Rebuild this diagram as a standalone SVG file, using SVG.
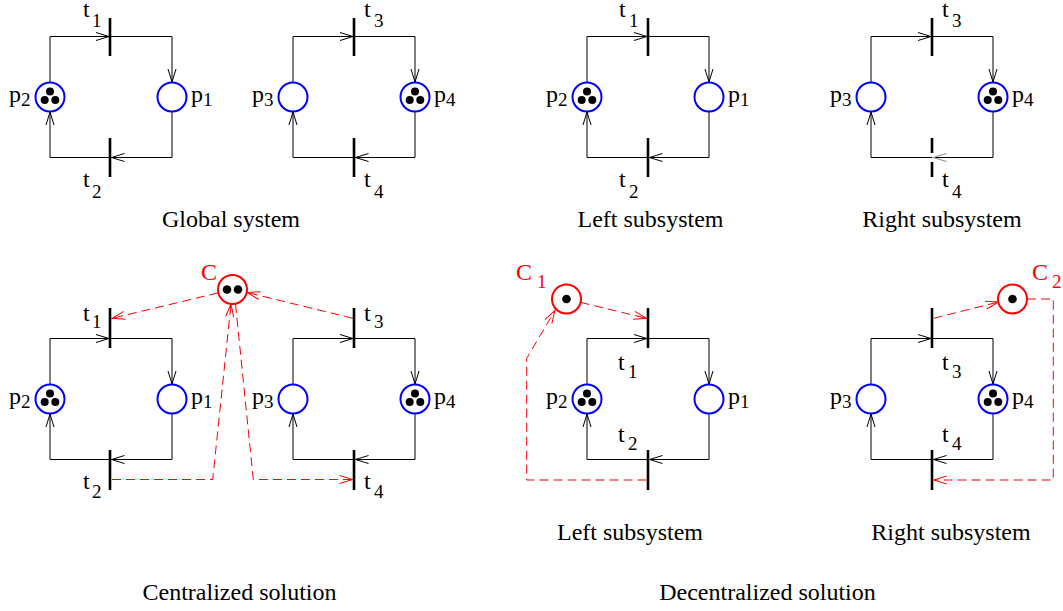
<svg xmlns="http://www.w3.org/2000/svg" width="1063" height="611" viewBox="0 0 1063 611">
<style>
text{font-family:"Liberation Serif","Times New Roman",serif;fill:#000}
.l{font-size:24px}
.s{font-size:19px}
.ttl{font-size:24px;text-anchor:middle}
.red{fill:#ff0000}
.arc{fill:none;stroke:#000;stroke-width:1;marker-end:url(#ah)}
.rarc{fill:none;stroke:#ff0000;stroke-width:1;stroke-dasharray:9,5;marker-end:url(#ahr)}
.pl{fill:#fff;stroke:#0000ff;stroke-width:2}
.cp{fill:#fff;stroke:#ff0000;stroke-width:2}
.bar{stroke:#000;stroke-width:2.6}
.tok{fill:#000}
</style>
<defs>
<marker id="ah" viewBox="-1 -6 16 12" refX="13" refY="0" markerWidth="16" markerHeight="12" markerUnits="userSpaceOnUse" orient="auto"><path d="M0,-4 L13,0 L0,4" fill="none" stroke="#000" stroke-width="1"/></marker>
<marker id="ahg" viewBox="-1 -6 16 12" refX="13" refY="0" markerWidth="16" markerHeight="12" markerUnits="userSpaceOnUse" orient="auto"><path d="M0,-4 L13,0 L0,4" fill="none" stroke="#888" stroke-width="1"/></marker>
<marker id="ahr" viewBox="-1 -6 16 12" refX="13" refY="0" markerWidth="16" markerHeight="12" markerUnits="userSpaceOnUse" orient="auto"><path d="M0,-4 L13,0 L0,4" fill="none" stroke="#ff0000" stroke-width="1"/></marker>
<g id="tok3"><circle class="tok" cx="0" cy="-5.5" r="4"/><circle class="tok" cx="-5.3" cy="3" r="4"/><circle class="tok" cx="5.3" cy="3" r="4"/></g>
</defs>

<g id="connectors">
<!-- Global left loop -->
<path class="arc" d="M50,82.5 V36.5 H109"/>
<path class="arc" d="M110,36.5 H172 V82"/>
<path class="arc" d="M172,111.5 V157.5 H111.5"/>
<path class="arc" d="M110,157.5 H50 V112"/>
<!-- Global right loop -->
<path class="arc" d="M293,82.5 V36.5 H353"/>
<path class="arc" d="M354,36.5 H415 V82"/>
<path class="arc" d="M415,111.5 V157.5 H355.5"/>
<path class="arc" d="M354,157.5 H293 V112"/>
<!-- Left subsystem top -->
<path class="arc" d="M587,82.5 V36.5 H647"/>
<path class="arc" d="M648,36.5 H709 V82"/>
<path class="arc" d="M709,111.5 V157.5 H649.5"/>
<path class="arc" d="M648,157.5 H587 V112"/>
<!-- Right subsystem top -->
<path class="arc" d="M871,82.5 V36.5 H931"/>
<path class="arc" d="M932,36.5 H993 V82"/>
<path d="M993,111.5 V157.5 H933.5" fill="none" stroke="#000" stroke-width="1" marker-end="url(#ahg)"/>
<path class="arc" d="M932,157.5 H871 V112"/>
<!-- Centralized left loop -->
<path class="arc" d="M50,384.5 V338.5 H109"/>
<path class="arc" d="M110,338.5 H172 V384"/>
<path class="arc" d="M172,413.5 V459.5 H111.5"/>
<path class="arc" d="M110,459.5 H50 V414"/>
<!-- Centralized right loop -->
<path class="arc" d="M293,384.5 V338.5 H353"/>
<path class="arc" d="M354,338.5 H415 V384"/>
<path class="arc" d="M415,413.5 V459.5 H355.5"/>
<path class="arc" d="M354,459.5 H293 V414"/>
<!-- Decentralized left loop -->
<path class="arc" d="M587,384.5 V338.5 H647"/>
<path class="arc" d="M648,338.5 H709 V384"/>
<path class="arc" d="M709,413.5 V459.5 H649.5"/>
<path class="arc" d="M648,459.5 H587 V414"/>
<!-- Decentralized right loop -->
<path class="arc" d="M871,384.5 V338.5 H931"/>
<path class="arc" d="M932,338.5 H993 V384"/>
<path class="arc" d="M993,413.5 V459.5 H933.5"/>
<path class="arc" d="M932,459.5 H871 V414"/>
<!-- Centralized controller arcs -->
<path class="rarc" d="M218.3,292.9 L112,318.3"/>
<path class="rarc" d="M353,318.3 L247,292.5"/>
<path class="rarc" d="M112,479.5 H212.7 L231,304"/>
<path class="rarc" d="M235.5,304 L253.3,479.5 H352.5"/>
<!-- Decentralized controller arcs -->
<path class="rarc" d="M580.6,302.4 L646.5,318.3"/>
<path class="rarc" d="M646.5,480 H526.7 V358.3 L555,310.5"/>
<path class="rarc" d="M933.5,318.3 L998.5,302"/>
<path class="rarc" d="M1027,299 H1053.3 V480 H933.8"/>
</g>

<!-- ===== Global system ===== -->
<g id="g-t1"><line class="bar" x1="110" y1="18" x2="110" y2="56"/><text class="l" x="83" y="17">t</text><text class="s" x="92" y="27">1</text></g>
<g id="g-t2"><line class="bar" x1="110" y1="138" x2="110" y2="177"/><text class="l" x="83" y="187">t</text><text class="s" x="92" y="198">2</text></g>
<g id="g-t3"><line class="bar" x1="354" y1="18" x2="354" y2="56"/><text class="l" x="364" y="17">t</text><text class="s" x="374" y="27">3</text></g>
<g id="g-t4"><line class="bar" x1="354" y1="138" x2="354" y2="177"/><text class="l" x="364" y="187">t</text><text class="s" x="374" y="198">4</text></g>
<g id="g-p2"><circle class="pl" cx="50" cy="97" r="14.5"/><use href="#tok3" x="50" y="97"/><text class="l" x="9" y="102">p</text><text class="s" x="21" y="106">2</text></g>
<g id="g-p1"><circle class="pl" cx="172" cy="97" r="14.5"/><text class="l" x="191" y="102">p</text><text class="s" x="203" y="106">1</text></g>
<g id="g-p3"><circle class="pl" cx="293" cy="97" r="14.5"/><text class="l" x="252" y="102">p</text><text class="s" x="264" y="106">3</text></g>
<g id="g-p4"><circle class="pl" cx="415" cy="97" r="14.5"/><use href="#tok3" x="415" y="97"/><text class="l" x="434" y="102">p</text><text class="s" x="446" y="106">4</text></g>
<text class="ttl" x="231" y="227">Global system</text>

<!-- ===== Left subsystem (top) ===== -->
<g id="l-t1"><line class="bar" x1="648" y1="18" x2="648" y2="56"/><text class="l" x="619" y="17">t</text><text class="s" x="629" y="27">1</text></g>
<g id="l-t2"><line class="bar" x1="648" y1="138" x2="648" y2="177"/><text class="l" x="619" y="187">t</text><text class="s" x="629" y="198">2</text></g>
<g id="l-p2"><circle class="pl" cx="587" cy="97" r="14.5"/><use href="#tok3" x="587" y="97"/><text class="l" x="546" y="102">p</text><text class="s" x="558" y="106">2</text></g>
<g id="l-p1"><circle class="pl" cx="709" cy="97" r="14.5"/><text class="l" x="728" y="102">p</text><text class="s" x="740" y="106">1</text></g>
<text class="ttl" x="650.5" y="227">Left subsystem</text>

<!-- ===== Right subsystem (top) ===== -->
<g id="r-t3"><line class="bar" x1="932" y1="18" x2="932" y2="56"/><text class="l" x="942" y="17">t</text><text class="s" x="952" y="27">3</text></g>
<g id="r-t4"><line class="bar" x1="932" y1="138" x2="932" y2="153"/><line class="bar" x1="932" y1="162" x2="932" y2="177"/><text class="l" x="942" y="187">t</text><text class="s" x="952" y="198">4</text></g>
<g id="r-p3"><circle class="pl" cx="871" cy="97" r="14.5"/><text class="l" x="830" y="102">p</text><text class="s" x="842" y="106">3</text></g>
<g id="r-p4"><circle class="pl" cx="993" cy="97" r="14.5"/><use href="#tok3" x="993" y="97"/><text class="l" x="1012" y="102">p</text><text class="s" x="1024" y="106">4</text></g>
<text class="ttl" x="942" y="227">Right subsystem</text>

<!-- ===== Centralized solution ===== -->
<g id="c-t1"><line class="bar" x1="110" y1="308" x2="110" y2="348"/><text class="l" x="83" y="321">t</text><text class="s" x="92" y="328">1</text></g>
<g id="c-t2"><line class="bar" x1="110" y1="450" x2="110" y2="490"/><text class="l" x="83" y="489">t</text><text class="s" x="92" y="498">2</text></g>
<g id="c-t3"><line class="bar" x1="354" y1="308" x2="354" y2="348"/><text class="l" x="364" y="321">t</text><text class="s" x="374" y="328">3</text></g>
<g id="c-t4"><line class="bar" x1="354" y1="450" x2="354" y2="490"/><text class="l" x="364" y="489">t</text><text class="s" x="374" y="498">4</text></g>
<g id="c-p2"><circle class="pl" cx="50" cy="399" r="14.5"/><use href="#tok3" x="50" y="399"/><text class="l" x="9" y="404">p</text><text class="s" x="21" y="408">2</text></g>
<g id="c-p1"><circle class="pl" cx="172" cy="399" r="14.5"/><text class="l" x="191" y="404">p</text><text class="s" x="203" y="408">1</text></g>
<g id="c-p3"><circle class="pl" cx="293" cy="399" r="14.5"/><text class="l" x="252" y="404">p</text><text class="s" x="264" y="408">3</text></g>
<g id="c-p4"><circle class="pl" cx="415" cy="399" r="14.5"/><use href="#tok3" x="415" y="399"/><text class="l" x="434" y="404">p</text><text class="s" x="446" y="408">4</text></g>
<g id="c-C"><circle class="cp" cx="232.5" cy="289.5" r="14.5"/><circle class="tok" cx="227" cy="289.5" r="4.3"/><circle class="tok" cx="238" cy="289.5" r="4.3"/><text class="l red" x="201" y="280">C</text></g>
<text class="ttl" x="239.5" y="600">Centralized solution</text>

<!-- ===== Decentralized solution ===== -->
<g id="d-t1"><line class="bar" x1="648" y1="308" x2="648" y2="348"/><text class="l" x="618" y="370">t</text><text class="s" x="628" y="378">1</text></g>
<g id="d-t2"><line class="bar" x1="648" y1="450" x2="648" y2="490"/><text class="l" x="618" y="442">t</text><text class="s" x="628" y="450">2</text></g>
<g id="d-p2"><circle class="pl" cx="587" cy="399" r="14.5"/><use href="#tok3" x="587" y="399"/><text class="l" x="546" y="404">p</text><text class="s" x="558" y="408">2</text></g>
<g id="d-p1"><circle class="pl" cx="709" cy="399" r="14.5"/><text class="l" x="728" y="404">p</text><text class="s" x="740" y="408">1</text></g>
<g id="d-C1"><circle class="cp" cx="566.5" cy="299" r="14.5"/><circle class="tok" cx="566.5" cy="299" r="4.3"/><text class="l red" x="516" y="280">C</text><text class="s red" x="537" y="288">1</text></g>
<text class="ttl" x="630" y="540">Left subsystem</text>
<g id="d-t3"><line class="bar" x1="932" y1="308" x2="932" y2="348"/><text class="l" x="942" y="370">t</text><text class="s" x="952" y="378">3</text></g>
<g id="d-t4"><line class="bar" x1="932" y1="450" x2="932" y2="490"/><text class="l" x="942" y="442">t</text><text class="s" x="952" y="450">4</text></g>
<g id="d-p3"><circle class="pl" cx="871" cy="399" r="14.5"/><text class="l" x="830" y="404">p</text><text class="s" x="842" y="408">3</text></g>
<g id="d-p4"><circle class="pl" cx="993" cy="399" r="14.5"/><use href="#tok3" x="993" y="399"/><text class="l" x="1012" y="404">p</text><text class="s" x="1024" y="408">4</text></g>
<g id="d-C2"><circle class="cp" cx="1012.5" cy="299" r="14.5"/><circle class="tok" cx="1012.5" cy="299" r="4.3"/><text class="l red" x="1032" y="280">C</text><text class="s red" x="1052" y="288">2</text></g>
<text class="ttl" x="951" y="540">Right subsystem</text>
<text class="ttl" x="767.5" y="600">Decentralized solution</text>
</svg>
